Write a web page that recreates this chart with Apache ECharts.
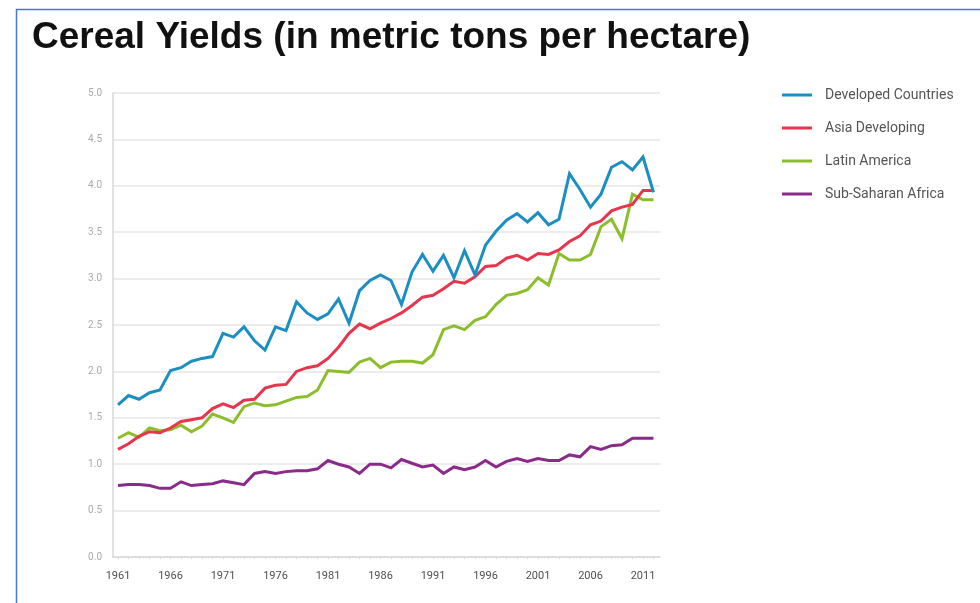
<!DOCTYPE html>
<html>
<head>
<meta charset="utf-8">
<title>Cereal Yields</title>
<script src="https://cdn.jsdelivr.net/npm/echarts@6/dist/echarts.min.js"></script>
<style>
  html, body { margin: 0; padding: 0; background: #ffffff; }
  #chart { width: 980px; height: 603px; }
</style>
</head>
<body>
<div id="chart"></div>
<script>
// Cereal yields, metric tons per hectare, 1961–2012
const years = [];
for (let y = 1961; y <= 2012; y++) years.push(y);

const tickYears = [1961, 1966, 1971, 1976, 1981, 1986, 1991, 1996, 2001, 2006, 2011];

const developedCountries = [
  1.64, 1.74, 1.70, 1.77, 1.80, 2.01, 2.04, 2.11, 2.14, 2.16,
  2.41, 2.37, 2.48, 2.33, 2.23, 2.48, 2.44, 2.75, 2.63, 2.56,
  2.62, 2.78, 2.52, 2.87, 2.98, 3.04, 2.98, 2.72, 3.07, 3.26,
  3.08, 3.25, 3.01, 3.30, 3.04, 3.36, 3.51, 3.63, 3.70, 3.61,
  3.71, 3.58, 3.64, 4.13, 3.96, 3.77, 3.91, 4.20, 4.26, 4.17,
  4.31, 3.93
];

const asiaDeveloping = [
  1.16, 1.22, 1.30, 1.35, 1.34, 1.39, 1.46, 1.48, 1.50, 1.60,
  1.65, 1.61, 1.69, 1.70, 1.82, 1.85, 1.86, 2.00, 2.04, 2.06,
  2.14, 2.26, 2.41, 2.51, 2.46, 2.52, 2.57, 2.63, 2.71, 2.80,
  2.82, 2.89, 2.97, 2.95, 3.02, 3.13, 3.14, 3.22, 3.25, 3.20,
  3.27, 3.26, 3.31, 3.40, 3.46, 3.58, 3.62, 3.73, 3.77, 3.80,
  3.95, 3.95
];

const latinAmerica = [
  1.28, 1.34, 1.29, 1.39, 1.36, 1.37, 1.42, 1.35, 1.41, 1.54,
  1.50, 1.45, 1.62, 1.66, 1.63, 1.64, 1.68, 1.72, 1.73, 1.80,
  2.01, 2.00, 1.99, 2.10, 2.14, 2.04, 2.10, 2.11, 2.11, 2.09,
  2.18, 2.45, 2.49, 2.45, 2.55, 2.59, 2.72, 2.82, 2.84, 2.88,
  3.01, 2.93, 3.27, 3.20, 3.20, 3.26, 3.56, 3.64, 3.43, 3.91,
  3.85, 3.85
];

const subSaharanAfrica = [
  0.77, 0.78, 0.78, 0.77, 0.74, 0.74, 0.81, 0.77, 0.78, 0.79,
  0.82, 0.80, 0.78, 0.90, 0.92, 0.90, 0.92, 0.93, 0.93, 0.95,
  1.04, 1.00, 0.97, 0.90, 1.00, 1.00, 0.96, 1.05, 1.01, 0.97,
  0.99, 0.90, 0.97, 0.94, 0.97, 1.04, 0.97, 1.03, 1.06, 1.03,
  1.06, 1.04, 1.04, 1.10, 1.08, 1.19, 1.16, 1.20, 1.21, 1.28,
  1.28, 1.28
];

const seriesNames = ['Developed Countries', 'Asia Developing', 'Latin America', 'Sub-Saharan Africa'];
const seriesValues = [developedCountries, asiaDeveloping, latinAmerica, subSaharanAfrica];
const seriesColors = ['#1c8fc2', '#e8344c', '#8cbe2c', '#8a2a8a'];

const narrowFont = '"Roboto", "Liberation Sans", sans-serif';

const chart = echarts.init(document.getElementById('chart'), null, { renderer: 'canvas' });

chart.setOption({
  animation: false,
  backgroundColor: '#ffffff',
  title: {
    text: 'Cereal Yields (in metric tons per hectare)',
    left: 27,
    top: 14,
    textStyle: {
      fontFamily: '"Liberation Sans", Arial, sans-serif',
      fontWeight: 'bold',
      fontSize: 37,
      color: '#111111'
    }
  },
  graphic: [{
    type: 'rect',
    silent: true,
    shape: { x: 16.5, y: 9.5, width: 1000, height: 640 },
    style: { fill: 'none', stroke: '#4a78cc', lineWidth: 1.5 }
  }],
  legend: {
    orient: 'vertical',
    left: 777,
    top: 83,
    itemWidth: 30,
    itemHeight: 3,
    itemGap: 19,
    icon: 'rect',
    data: seriesNames,
    textStyle: {
      fontFamily: narrowFont,
      fontSize: 14,
      color: '#555555',
      padding: [0, 0, 0, 8]
    }
  },
  grid: {
    left: 113,
    right: 320,
    top: 93,
    bottom: 46,
    containLabel: false
  },
  xAxis: {
    type: 'value',
    min: 1960.524,
    max: 2012.62,
    axisLine: { show: true, lineStyle: { color: '#d8d8d8', width: 1.5 } },
    axisTick: {
      show: true,
      customValues: years,
      length: 2,
      lineStyle: { color: '#d8d8d8' }
    },
    splitLine: { show: false },
    axisLabel: {
      customValues: tickYears,
      formatter: function (v) { return String(v); },
      margin: 14,
      fontFamily: narrowFont,
      fontSize: 11,
      color: '#505050'
    }
  },
  yAxis: {
    type: 'value',
    min: 0,
    max: 5,
    interval: 0.5,
    axisLine: { show: true, lineStyle: { color: '#d8d8d8', width: 1.5 } },
    axisTick: { show: false },
    splitLine: { show: true, lineStyle: { color: '#e6e6e6', width: 1.5 } },
    axisLabel: {
      formatter: function (v) { return v.toFixed(1); },
      margin: 11,
      fontFamily: narrowFont,
      fontSize: 10,
      color: '#aaaaaa'
    }
  },
  series: seriesNames.map(function (name, i) {
    return {
      name: name,
      type: 'line',
      data: years.map(function (y, j) { return [y, seriesValues[i][j]]; }),
      showSymbol: false,
      symbol: 'none',
      lineStyle: { color: seriesColors[i], width: 3, join: 'miter' },
      itemStyle: { color: seriesColors[i] },
      z: 4 - i
    };
  })
});
</script>
</body>
</html>
